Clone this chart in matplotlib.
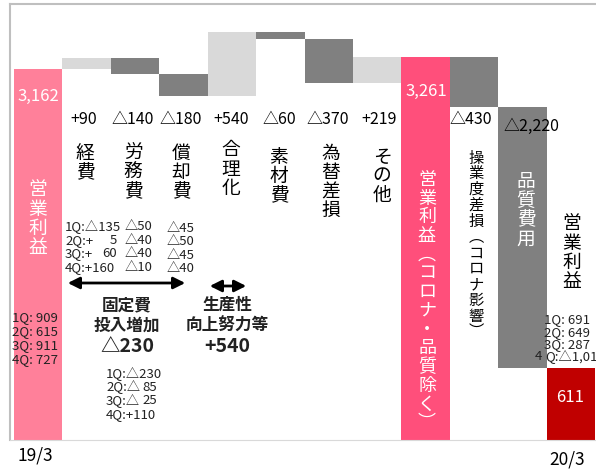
import matplotlib

matplotlib.use("Agg")
import matplotlib.pyplot as plt
import numpy as np

plt.rcParams["font.family"] = ["Noto Sans CJK JP", "DejaVu Sans"]

W, H = 596, 470

# waterfall data (units: 億円)
start_label, start_value = "19/3", 3162
step_labels = ["経費", "労務費", "償却費", "合理化", "素材費", "為替差損", "その他"]
step_deltas = [90, -140, -180, 540, -60, -370, 219]
step_texts = ["+90", "△140", "△180", "+540", "△60", "△370", "+219"]
mid_label, mid_value = "営業利益（コロナ・品質除く）", 3261
loss_labels = ["操業度差損（コロナ影響）", "品質費用"]
loss_deltas = [-430, -2220]
loss_texts = ["△430", "△2,220"]
end_label, end_value = "20/3", 611

q_start = ["1Q: 909", "2Q: 615", "3Q: 911", "4Q: 727"]
q_keihi_prefix = ["1Q:△", "2Q:+", "3Q:+", "4Q:+"]
q_keihi_num = ["135", "5", "60", "160"]
q_roumu = ["△50", "△40", "△40", "△10"]
q_shoukyaku = ["△45", "△50", "△45", "△40"]
q_fixed_prefix = ["1Q:△", "2Q:△", "3Q:△", "4Q:+"]
q_fixed_num = ["230", "85", "25", "110"]
q_end = ["1Q: 691", "2Q: 649", "3Q: 287"]
q_end_4q = "Q:△1,016"

LIGHT, DARK = "#D9D9D9", "#808080"
PINK, PINK2, RED = "#FF809A", "#FF4F7B", "#C00000"

# vertical forms for parentheses when text is stacked
VERT = {"（": "︵", "）": "︶"}


def P(x, y):
    return x / W, 1 - y / H


def vtext(x, y0, s, step, **kw):
    for i, ch in enumerate(s):
        fig.text(*P(x, y0 + i * step), VERT.get(ch, ch), ha="center", va="center", **kw)


def qline(xl, xr, y, prefix, num, **kw):
    # short numbers are right-aligned under the 3-digit ones
    if len(num) >= 3:
        fig.text(*P(xl, y), prefix + num, ha="left", **kw)
    else:
        fig.text(*P(xl, y), prefix, ha="left", **kw)
        fig.text(*P(xr, y), num, ha="right", **kw)


fig = plt.figure(figsize=(W / 100, H / 100), dpi=100)
ax = fig.add_axes([10 / W, 30 / H, 586 / W, 436 / H])

# bar geometry
bottoms, heights, colors = [0], [start_value], [PINK]
level = start_value
for d in step_deltas:
    bottoms.append(min(level, level + d))
    heights.append(abs(d))
    colors.append(LIGHT if d > 0 else DARK)
    level += d
bottoms.append(0); heights.append(mid_value); colors.append(PINK2)
level = mid_value
for d in loss_deltas:
    bottoms.append(level + d)
    heights.append(-d)
    colors.append(DARK)
    level += d
bottoms.append(0); heights.append(end_value); colors.append(RED)

x = np.arange(len(heights))
ax.bar(x, heights, bottom=bottoms, width=1, align="edge", color=colors, linewidth=0)

ax.set_xlim(-0.083, 12.02)
ax.set_ylim(0, 3712)
ax.set_xticks([]); ax.set_yticks([])
ax.spines["right"].set_visible(False)
for s in ("top", "left"):
    ax.spines[s].set_color("#BFBFBF")
    ax.spines[s].set_linewidth(1.5)
ax.spines["bottom"].set_color("#D9D9D9")

# totals inside bars
fig.text(*P(38, 96), f"{start_value:,}", ha="center", va="center", color="white", fontsize=12)
fig.text(*P(426, 91), f"{mid_value:,}", ha="center", va="center", color="white", fontsize=12)
fig.text(*P(570, 397), f"{end_value:,}", ha="center", va="center", color="white", fontsize=12)

# step value labels
for cx, t in zip([84, 133, 181, 231, 279, 328, 379], step_texts):
    fig.text(*P(cx, 119), t, ha="center", va="center", fontsize=11.5)
fig.text(*P(471, 119), loss_texts[0], ha="center", va="center", fontsize=11.5)
fig.text(*P(531, 126), loss_texts[1], ha="center", va="center", fontsize=11.5)

# vertical category names
vt = dict(fontsize=13.5)
for cx, y0, lab in zip([85, 133, 181, 231, 279, 331, 382],
                       [153, 153, 153, 150, 157, 153, 157], step_labels):
    vtext(cx, y0, lab, 19.3, **vt)
vtext(38, 190, "営業利益", 19.3, color="white", **vt)
vtext(427, 180, mid_label, 18.7, color="white", fontsize=13)
vtext(476, 158, loss_labels[0], 15.8, fontsize=11)
vtext(526, 181, loss_labels[1], 19.3, color="white", **vt)
vtext(572, 224, "営業利益", 19.3, **vt)

# quarterly breakdowns
qs = dict(fontsize=9.5, va="center", color="#222222")
for i, t in enumerate(q_start):
    fig.text(*P(12, 318 + i * 14), t, ha="left", **qs)
for i in range(4):
    y = 227 + i * 13.4
    qline(65, 117, y, q_keihi_prefix[i], q_keihi_num[i], **qs)
    fig.text(*P(125, y), q_roumu[i], ha="left", **qs)
    fig.text(*P(167, y + 1.5), q_shoukyaku[i], ha="left", **qs)
    qline(106, 157, 374 + i * 13.5, q_fixed_prefix[i], q_fixed_num[i], **qs)
for i, t in enumerate(q_end):
    fig.text(*P(544, 320 + i * 12.5), t, ha="left", **qs)
fig.text(*P(535, 357), "4", ha="left", **qs)
fig.text(*P(545, 357), q_end_4q, ha="left", **qs)

# arrows and group notes
arr = dict(arrowstyle="<|-|>,head_length=0.7,head_width=0.35", color="black", lw=2)
ax.annotate("", xy=P(188, 283), xytext=P(65, 283), xycoords="figure fraction",
            textcoords="figure fraction", arrowprops=arr)
ax.annotate("", xy=P(249, 286), xytext=P(207, 286), xycoords="figure fraction",
            textcoords="figure fraction", arrowprops=arr)
bold = dict(ha="center", va="center", fontweight="bold", color="#222222")
fig.text(*P(127, 305), "固定費", fontsize=12, **bold)
fig.text(*P(127, 326), "投入増加", fontsize=12, **bold)
fig.text(*P(127, 346), "△230", fontsize=14, **bold)
fig.text(*P(227, 305), "生産性", fontsize=12, **bold)
fig.text(*P(227, 326), "向上努力等", fontsize=12, **bold)
fig.text(*P(227, 347), "+540", fontsize=14, **bold)

# period labels
fig.text(*P(35, 455), start_label, ha="center", va="center", fontsize=12.5)
fig.text(*P(567, 459), end_label, ha="center", va="center", fontsize=12.5)

fig.savefig("out.png", dpi=100)
